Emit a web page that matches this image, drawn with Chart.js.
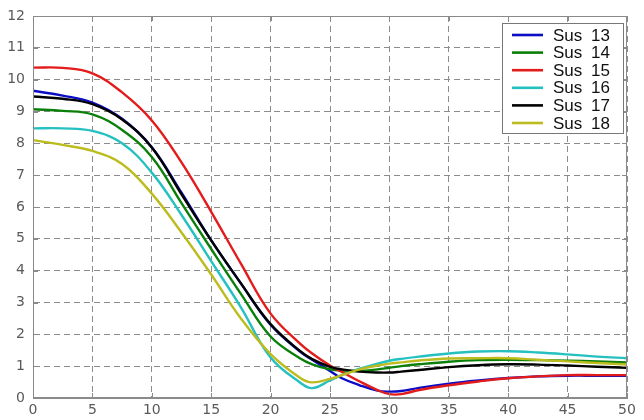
<!DOCTYPE html>
<html>
<head>
<meta charset="utf-8">
<script src="https://cdn.jsdelivr.net/npm/chart.js@4.4.0/dist/chart.umd.min.js"></script>
<style>
html,body{margin:0;padding:0;background:#fff;}
#wrap{width:644px;height:420px;}
</style>
</head>
<body>
<div id="wrap"><canvas id="c" width="644" height="420"></canvas></div>
<script>
// sample positions along x
var xs = [0, 2.5, 5, 7.5, 10, 12.5, 15, 17.5, 20, 22.5, 23.5, 25, 26, 27.5, 29, 30, 31, 32.5, 35, 37.5, 40, 42.5, 45, 47.5, 50];

var sus13 = [9.65, 9.5, 9.28, 8.77, 7.88, 6.45, 4.95, 3.6, 2.3, 1.45, 1.2, 0.85, 0.62, 0.4, 0.23, 0.2, 0.22, 0.32, 0.45, 0.55, 0.63, 0.68, 0.7, 0.7, 0.7];
var sus14 = [9.07, 9.02, 8.91, 8.42, 7.57, 6.12, 4.68, 3.27, 1.93, 1.24, 1.06, 0.9, 0.86, 0.85, 0.9, 0.95, 1.0, 1.06, 1.14, 1.19, 1.2, 1.19, 1.17, 1.15, 1.12];
var sus15 = [10.38, 10.37, 10.2, 9.6, 8.72, 7.4, 5.85, 4.22, 2.65, 1.7, 1.4, 1.02, 0.82, 0.52, 0.25, 0.12, 0.12, 0.25, 0.4, 0.52, 0.62, 0.68, 0.72, 0.72, 0.72];
var sus16 = [8.47, 8.47, 8.39, 8.0, 7.08, 5.75, 4.3, 2.85, 1.27, 0.48, 0.31, 0.55, 0.72, 0.92, 1.08, 1.17, 1.23, 1.3, 1.4, 1.46, 1.47, 1.43, 1.37, 1.3, 1.25];
var sus17 = [9.47, 9.4, 9.23, 8.75, 7.87, 6.4, 4.95, 3.6, 2.32, 1.47, 1.22, 0.98, 0.9, 0.83, 0.8, 0.8, 0.83, 0.88, 0.97, 1.03, 1.06, 1.05, 1.02, 0.98, 0.95];
var sus18 = [8.1, 7.95, 7.76, 7.35, 6.42, 5.2, 3.88, 2.5, 1.38, 0.63, 0.49, 0.6, 0.72, 0.9, 1.02, 1.08, 1.12, 1.18, 1.24, 1.25, 1.25, 1.2, 1.15, 1.1, 1.05];

var seriesNames = ['Sus 13', 'Sus 14', 'Sus 15', 'Sus 16', 'Sus 17', 'Sus 18'];
var seriesValues = [sus13, sus14, sus15, sus16, sus17, sus18];
var seriesColors = ['#0c0cc4', '#0a7f0a', '#e31b1b', '#25c0c0', '#000000', '#bcbc1f'];

function toPoints(vals){
  var pts = [];
  for (var i = 0; i < xs.length; i++) pts.push({x: xs[i], y: vals[i]});
  return pts;
}

var datasets = [];
for (var i = 0; i < seriesNames.length; i++) {
  datasets.push({
    label: seriesNames[i],
    data: toPoints(seriesValues[i]),
    borderColor: seriesColors[i],
    backgroundColor: seriesColors[i],
    borderWidth: 2.4,
    pointRadius: 0,
    fill: false,
    tension: 0.4,
    order: seriesNames.length - i   // later series drawn on top, like matlab
  });
}

// box round the axes, inward ticks and the boxed legend inside the plot
var frameAndLegend = {
  id: 'frameAndLegend',
  afterDatasetsDraw: function(chart){
    var ctx = chart.ctx, a = chart.chartArea;
    var sx = chart.scales.x, sy = chart.scales.y;
    ctx.save();
    ctx.strokeStyle = '#8a8a8a';
    ctx.lineWidth = 1;
    ctx.strokeRect(a.left + 0.5, a.top + 0.5, a.right - a.left - 1, a.bottom - a.top - 1);

    ctx.beginPath();
    sx.ticks.forEach(function(t){
      var px = Math.round(sx.getPixelForValue(t.value)) + 0.5;
      ctx.moveTo(px, a.bottom); ctx.lineTo(px, a.bottom - 5);
      ctx.moveTo(px, a.top); ctx.lineTo(px, a.top + 5);
    });
    sy.ticks.forEach(function(t){
      var py = Math.round(sy.getPixelForValue(t.value)) + 0.5;
      ctx.moveTo(a.left, py); ctx.lineTo(a.left + 5, py);
      ctx.moveTo(a.right, py); ctx.lineTo(a.right - 5, py);
    });
    ctx.stroke();

    // legend
    var bx = a.right - 125, by = a.top + 7, bw = 121, bh = 110;
    ctx.fillStyle = '#fff';
    ctx.fillRect(bx, by, bw, bh);
    ctx.strokeStyle = '#777';
    ctx.strokeRect(bx + 0.5, by + 0.5, bw, bh);
    ctx.font = '17px "Liberation Sans", Arial, sans-serif';
    ctx.textBaseline = 'middle';
    ctx.textAlign = 'left';
    chart.data.datasets.forEach(function(ds, k){
      var ly = by + 12 + k * 17.6;
      ctx.strokeStyle = ds.borderColor;
      ctx.lineWidth = 2.6;
      ctx.beginPath();
      ctx.moveTo(bx + 10, ly); ctx.lineTo(bx + 41, ly);
      ctx.stroke();
      ctx.fillStyle = '#111';
      var parts = ds.label.split(' ');
      ctx.fillText(parts[0], bx + 51, ly + 1);
      ctx.fillText(parts[1], bx + 89, ly + 1);
    });
    ctx.restore();
  }
};

var tickFont = {family: '"DejaVu Sans", sans-serif', size: 14};

new Chart(document.getElementById('c'), {
  type: 'line',
  data: {datasets: datasets},
  options: {
    responsive: false,
    animation: false,
    layout: {padding: {top: 16, right: 17, left: 0, bottom: 0}},
    plugins: {legend: {display: false}, tooltip: {enabled: false}},
    scales: {
      x: {
        type: 'linear',
        min: 0, max: 50,
        ticks: {stepSize: 5, font: tickFont, color: '#5a5a5a', padding: 4, maxRotation: 0},
        grid: {color: '#8c8c8c', lineWidth: 1, drawTicks: false},
        border: {display: true, color: '#8a8a8a', dash: [6, 4]},
        afterFit: function(s){ s.height = 22; s.paddingLeft = 0; s.paddingRight = 0; }
      },
      y: {
        min: 0, max: 12,
        ticks: {stepSize: 1, font: tickFont, color: '#5a5a5a', padding: 8},
        grid: {color: '#8c8c8c', lineWidth: 1, drawTicks: false},
        border: {display: true, color: '#8a8a8a', dash: [6, 4]},
        afterFit: function(s){ s.width = 33; s.paddingTop = 0; s.paddingBottom = 0; }
      }
    }
  },
  plugins: [frameAndLegend]
});
</script>
</body>
</html>
